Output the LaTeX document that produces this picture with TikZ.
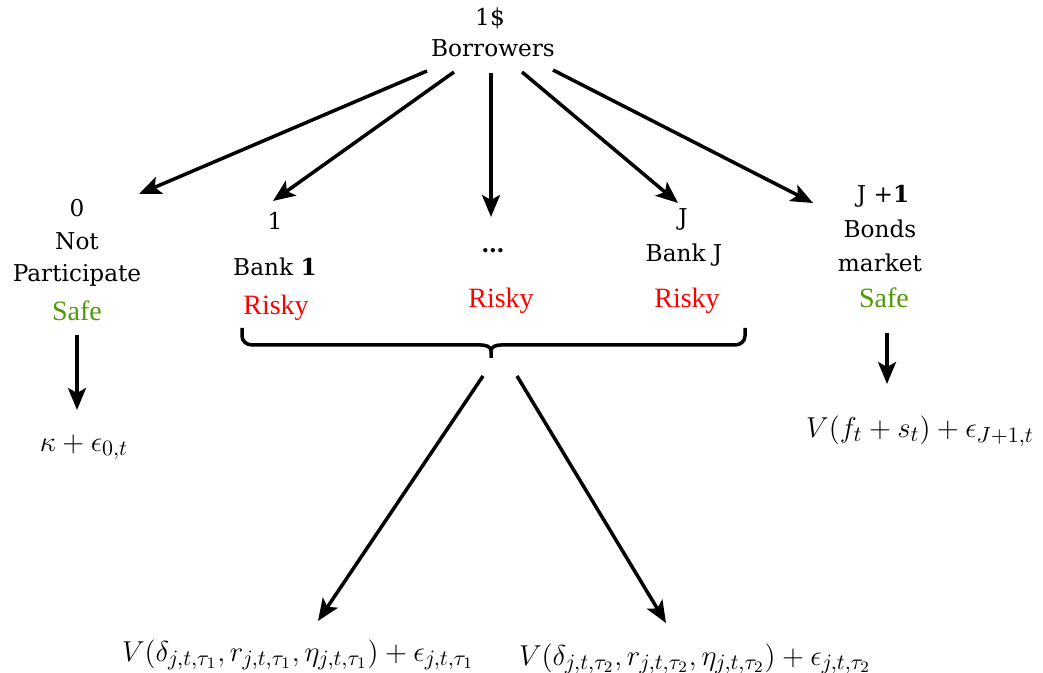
\documentclass[tikz,border=0pt]{standalone}
\usepackage{fontspec}
\setmainfont{DejaVu Serif}
\newfontfamily\rfont{Liberation Serif}
\usetikzlibrary{arrows.meta}
\definecolor{safegreen}{RGB}{78,154,6}
\definecolor{riskred}{RGB}{255,0,0}
\begin{document}
\begin{tikzpicture}[x=0.5pt,y=-0.5pt,
  lbl/.style={anchor=base, inner sep=0pt, font=\fontsize{11.6}{14}\selectfont},
  safe/.style={anchor=base, inner sep=0pt, text=safegreen, font=\rfont\fontsize{14}{16}\selectfont},
  risky/.style={anchor=base, inner sep=0pt, text=riskred, font=\rfont\fontsize{14}{16}\selectfont},
  mth/.style={anchor=base, inner sep=0pt, font=\fontsize{15.2}{18}\selectfont},
  arr/.style={line width=1.75pt, -{Stealth[length=11pt,width=9pt,inset=2.5pt]}},
  brc/.style={line width=1.75pt}]
\useasboundingbox (0,0) rectangle (1043,673);

% top
\node[lbl] (dollar) at (490,26) {1\$};
\node[lbl] (borrowers) at (493,57) {Borrowers};

% option 0
\node[lbl] (n0) at (77,217) {0};
\node[lbl] (n0a) at (77,250) {Not};
\node[lbl] (n0b) at (77,282) {Participate};
\node[safe] (n0s) at (77,321) {Safe};
\node[mth] (u0) at (84,451) {$\kappa+\epsilon_{0,t}$};

% option 1
\node[lbl] (n1) at (275,230) {1};
\node[lbl] (n1a) at (275,276) {Bank \textbf{1}};
\node[risky] (n1r) at (276,315) {Risky};

% dots
\node[lbl] (nd) at (493,253) {\textbf{\ldots}};
\node[risky] (ndr) at (501,308) {Risky};

% option J
\node[lbl] (nJ) at (683,226) {J};
\node[lbl] (nJa) at (684,262) {Bank J};
\node[risky] (nJr) at (687,308) {Risky};

% option J+1
\node[lbl] (nK) at (883,203) {J +\textbf{1}};
\node[lbl] (nKa) at (880,238) {Bonds};
\node[lbl] (nKb) at (880,272) {market};
\node[safe] (nKs) at (884,308) {Safe};
\node[mth] (uK) at (920,437) {$V(f_t+s_t)+\epsilon_{J+1,t}$};

% bottom utilities
\node[mth] (ut1) at (298,661) {$V(\delta_{j,t,\tau_1},r_{j,t,\tau_1},\eta_{j,t,\tau_1})+\epsilon_{j,t,\tau_1}$};
\node[mth] (ut2) at (695,665) {$V(\delta_{j,t,\tau_2},r_{j,t,\tau_2},\eta_{j,t,\tau_2})+\epsilon_{j,t,\tau_2}$};

% arrow coordinates
\coordinate (s1) at (427,71);  \coordinate (e1) at (139,194);
\coordinate (s2) at (454,72);  \coordinate (e2) at (273,201);
\coordinate (s3) at (491,73);  \coordinate (e3) at (491,217);
\coordinate (s4) at (522,72);  \coordinate (e4) at (678,203);
\coordinate (s5) at (553,70);  \coordinate (e5) at (813,203);
\coordinate (s6) at (77,335);  \coordinate (e6) at (77,410);
\coordinate (s7) at (887,333); \coordinate (e7) at (887,384);
\coordinate (s8) at (483,376); \coordinate (e8) at (318,621);
\coordinate (s9) at (517,376); \coordinate (e9) at (666,623);

\draw[arr] (s1) -- (e1);
\draw[arr] (s2) -- (e2);
\draw[arr] (s3) -- (e3);
\draw[arr] (s4) -- (e4);
\draw[arr] (s5) -- (e5);
\draw[arr] (s6) -- (e6);
\draw[arr] (s7) -- (e7);
\draw[arr] (s8) -- (e8);
\draw[arr] (s9) -- (e9);

% brace
\coordinate (bl) at (242,328);
\coordinate (br) at (745,328);
\coordinate (bt) at (491,358);
\draw[brc] (bl) -- (242,336) to[out=-90,in=180] (252,345) -- (481,345)
  to[out=0,in=90] (491,351) -- (bt);
\draw[brc] (491,351) to[out=90,in=180] (501,345) -- (735,345)
  to[out=0,in=-90] (745,336) -- (br);
\end{tikzpicture}
\end{document}
